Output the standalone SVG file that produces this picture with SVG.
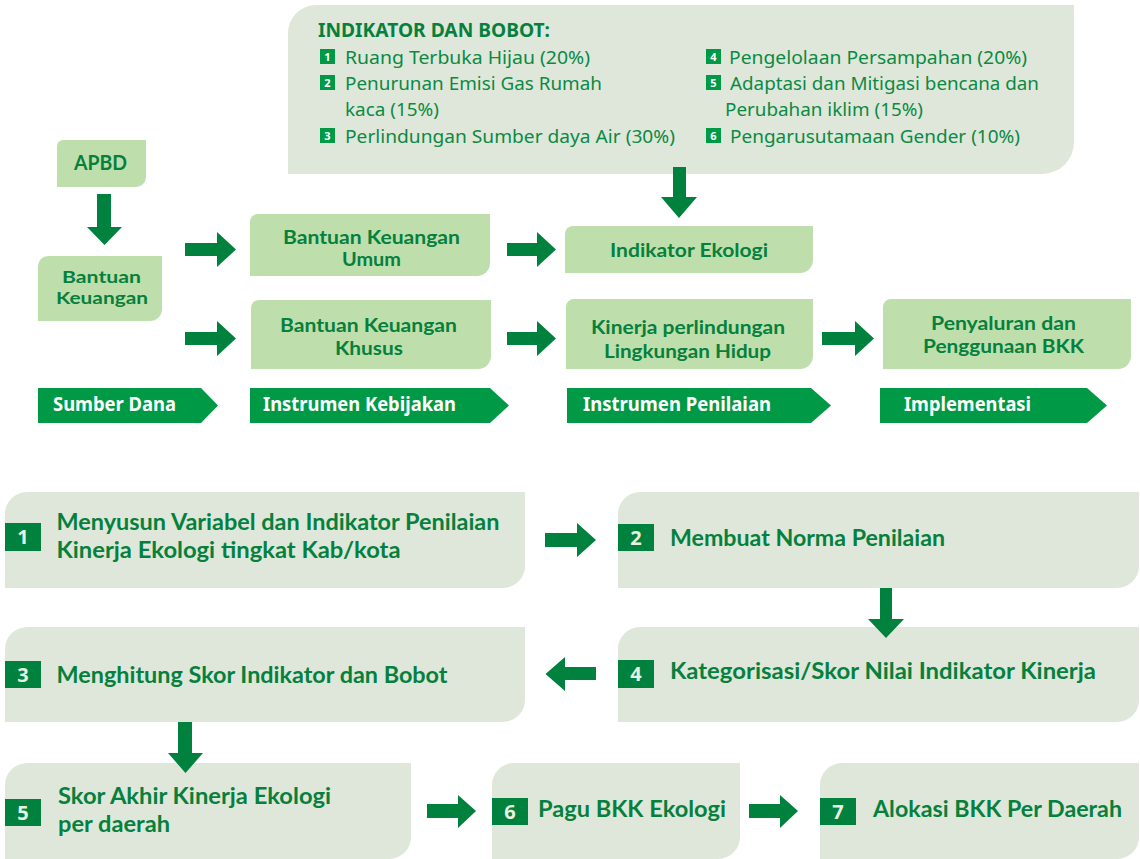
<svg xmlns="http://www.w3.org/2000/svg" width="1140" height="859" viewBox="0 0 1140 859">
  <style>
    .panel { fill: #dfe7da; }
    .node { fill: #bedfac; }
    .arrow { fill: #00813d; }
    .banner { fill: #009a46; }
    .badge { fill: #00813d; }
    .sbadge { fill: #009a46; }
    text { font-family: "Noto Sans", "Open Sans", "Liberation Sans", sans-serif; }
    .t { fill: #05803d; font-weight: 700; font-family: Lato, "Noto Sans", "Liberation Sans", sans-serif; }
    .tr { fill: #0a8a44; font-weight: 400; font-size: 18px; }
    .title { fill: #05803d; font-weight: 700; font-size: 19px; }
    .nt { font-size: 18px; }
    .bt { font-size: 23px; }
    .wt { fill: #ffffff; font-weight: 700; font-size: 19px; }
    .num { fill: #e8f2e4; font-weight: 700; font-size: 20px; text-anchor: middle; }
    .snum { fill: #ffffff; font-weight: 700; font-size: 11px; text-anchor: middle; }
  </style>

  <!-- indicator and weight panel -->
  <g id="indikator-bobot">
    <path class="panel" d="M288,33 A28,28 0 0 1 316,5 H1074 V142 A32,32 0 0 1 1042,174 H288 Z"/>
    <text class="title" x="318" y="37" textLength="232" lengthAdjust="spacingAndGlyphs">INDIKATOR DAN BOBOT:</text>
    <rect class="sbadge" x="320" y="49" width="15" height="15"/>
    <text class="snum" x="327.5" y="60.5">1</text>
    <text class="tr" x="345" y="64" textLength="245" lengthAdjust="spacingAndGlyphs">Ruang Terbuka Hijau (20%)</text>
    <rect class="sbadge" x="320" y="75" width="15" height="15"/>
    <text class="snum" x="327.5" y="86.5">2</text>
    <text class="tr" x="345" y="90" textLength="257" lengthAdjust="spacingAndGlyphs">Penurunan Emisi Gas Rumah</text>
    <text class="tr" x="345" y="116" textLength="94" lengthAdjust="spacingAndGlyphs">kaca (15%)</text>
    <rect class="sbadge" x="320" y="128" width="15" height="15"/>
    <text class="snum" x="327.5" y="139.5">3</text>
    <text class="tr" x="345" y="143" textLength="330" lengthAdjust="spacingAndGlyphs">Perlindungan Sumber daya Air (30%)</text>
    <rect class="sbadge" x="706" y="49" width="15" height="15"/>
    <text class="snum" x="713.5" y="60.5">4</text>
    <text class="tr" x="729" y="64" textLength="298" lengthAdjust="spacingAndGlyphs">Pengelolaan Persampahan (20%)</text>
    <rect class="sbadge" x="706" y="75" width="15" height="15"/>
    <text class="snum" x="713.5" y="86.5">5</text>
    <text class="tr" x="730" y="90" textLength="309" lengthAdjust="spacingAndGlyphs">Adaptasi dan Mitigasi bencana dan</text>
    <text class="tr" x="725" y="116" textLength="198" lengthAdjust="spacingAndGlyphs">Perubahan iklim (15%)</text>
    <rect class="sbadge" x="706" y="128" width="15" height="15"/>
    <text class="snum" x="713.5" y="139.5">6</text>
    <text class="tr" x="730" y="143" textLength="290" lengthAdjust="spacingAndGlyphs">Pengarusutamaan Gender (10%)</text>
  </g>

  <!-- upper flow nodes -->
  <g id="apbd">
    <path class="node" d="M57,146 A6,6 0 0 1 63,140 H146 V177 A10,10 0 0 1 136,187 H57 Z"/>
    <text class="t" style="font-size:20px" x="74" y="170" textLength="53" lengthAdjust="spacingAndGlyphs">APBD</text>
  </g>
  <g id="bantuan-keuangan">
    <path class="node" d="M38,266 A10,10 0 0 1 48,256 H162 V309 A12,12 0 0 1 150,321 H38 Z"/>
    <text class="t" style="font-size:17px" x="62" y="283" textLength="79" lengthAdjust="spacingAndGlyphs">Bantuan</text>
    <text class="t" style="font-size:17px" x="56" y="304" textLength="92" lengthAdjust="spacingAndGlyphs">Keuangan</text>
  </g>
  <g id="bk-umum">
    <path class="node" d="M250,222 A8,8 0 0 1 258,214 H490 V263 A13,13 0 0 1 477,276 H250 Z"/>
    <text class="t nt" x="283" y="244" textLength="177" lengthAdjust="spacingAndGlyphs">Bantuan Keuangan</text>
    <text class="t nt" x="342" y="266" textLength="59" lengthAdjust="spacingAndGlyphs">Umum</text>
  </g>
  <g id="bk-khusus">
    <path class="node" d="M251,308 A8,8 0 0 1 259,300 H491 V356 A13,13 0 0 1 478,369 H251 Z"/>
    <text class="t nt" x="280" y="332" textLength="177" lengthAdjust="spacingAndGlyphs">Bantuan Keuangan</text>
    <text class="t nt" x="335" y="355" textLength="68" lengthAdjust="spacingAndGlyphs">Khusus</text>
  </g>
  <g id="indikator-ekologi">
    <path class="node" d="M565,234 A8,8 0 0 1 573,226 H813 V260 A13,13 0 0 1 800,273 H565 Z"/>
    <text class="t" style="font-size:19px" x="610" y="257" textLength="158" lengthAdjust="spacingAndGlyphs">Indikator Ekologi</text>
  </g>
  <g id="kinerja-lh">
    <path class="node" d="M566,307 A8,8 0 0 1 574,299 H813 V356 A13,13 0 0 1 800,369 H566 Z"/>
    <text class="t nt" x="591" y="334" textLength="194" lengthAdjust="spacingAndGlyphs">Kinerja perlindungan</text>
    <text class="t nt" x="604" y="358" textLength="167" lengthAdjust="spacingAndGlyphs">Lingkungan Hidup</text>
  </g>
  <g id="penyaluran-bkk">
    <path class="node" d="M883,307 A8,8 0 0 1 891,299 H1131 V356 A13,13 0 0 1 1118,369 H883 Z"/>
    <text class="t nt" x="931" y="330" textLength="145" lengthAdjust="spacingAndGlyphs">Penyaluran dan</text>
    <text class="t nt" x="923" y="353" textLength="161" lengthAdjust="spacingAndGlyphs">Penggunaan BKK</text>
  </g>

  <!-- stage banners -->
  <g id="sumber-dana">
    <path class="banner" d="M38,388 H201 L218,405.5 L201,423 H38 Z"/>
    <text class="wt" x="53" y="411" textLength="123" lengthAdjust="spacingAndGlyphs">Sumber Dana</text>
  </g>
  <g id="instrumen-kebijakan">
    <path class="banner" d="M250,388 H490 L509,405.5 L490,423 H250 Z"/>
    <text class="wt" x="263" y="411" textLength="193" lengthAdjust="spacingAndGlyphs">Instrumen Kebijakan</text>
  </g>
  <g id="instrumen-penilaian">
    <path class="banner" d="M567,388 H811 L831,405.5 L811,423 H567 Z"/>
    <text class="wt" x="583" y="411" textLength="188" lengthAdjust="spacingAndGlyphs">Instrumen Penilaian</text>
  </g>
  <g id="implementasi">
    <path class="banner" d="M880,388 H1087 L1107,405.5 L1087,423 H880 Z"/>
    <text class="wt" x="904" y="411" textLength="127" lengthAdjust="spacingAndGlyphs">Implementasi</text>
  </g>

  <!-- process steps -->
  <g id="step-1">
    <path class="panel" d="M5,514 A22,22 0 0 1 27,492 H525 V566 A22,22 0 0 1 503,588 H5 Z"/>
    <rect class="badge" x="5" y="523" width="36" height="28"/>
    <text class="num" x="23" y="544">1</text>
    <text class="t bt" x="56.5" y="530" textLength="443" lengthAdjust="spacingAndGlyphs">Menyusun Variabel dan Indikator Penilaian</text>
    <text class="t bt" x="56.5" y="558" textLength="344" lengthAdjust="spacingAndGlyphs">Kinerja Ekologi tingkat Kab/kota</text>
  </g>
  <g id="step-2">
    <path class="panel" d="M618,514 A22,22 0 0 1 640,492 H1139 V566 A22,22 0 0 1 1117,588 H618 Z"/>
    <rect class="badge" x="618" y="524" width="36" height="27"/>
    <text class="num" x="636" y="545">2</text>
    <text class="t bt" x="670" y="546" textLength="275" lengthAdjust="spacingAndGlyphs">Membuat Norma Penilaian</text>
  </g>
  <g id="step-3">
    <path class="panel" d="M5,649 A22,22 0 0 1 27,627 H525 V700 A22,22 0 0 1 503,722 H5 Z"/>
    <rect class="badge" x="5" y="661" width="36" height="27"/>
    <text class="num" x="23" y="682">3</text>
    <text class="t bt" x="56.5" y="683" textLength="391" lengthAdjust="spacingAndGlyphs">Menghitung Skor Indikator dan Bobot</text>
  </g>
  <g id="step-4">
    <path class="panel" d="M618,649 A22,22 0 0 1 640,627 H1139 V700 A22,22 0 0 1 1117,722 H618 Z"/>
    <rect class="badge" x="618" y="660" width="36" height="28"/>
    <text class="num" x="636" y="681">4</text>
    <text class="t bt" x="670" y="679" textLength="426" lengthAdjust="spacingAndGlyphs">Kategorisasi/Skor Nilai Indikator Kinerja</text>
  </g>
  <g id="step-5">
    <path class="panel" d="M5,785 A22,22 0 0 1 27,763 H411 V837 A22,22 0 0 1 389,859 H5 Z"/>
    <rect class="badge" x="5" y="799" width="36" height="27"/>
    <text class="num" x="23" y="820">5</text>
    <text class="t bt" x="58" y="804" textLength="273" lengthAdjust="spacingAndGlyphs">Skor Akhir Kinerja Ekologi</text>
    <text class="t bt" x="58" y="832" textLength="112" lengthAdjust="spacingAndGlyphs">per daerah</text>
  </g>
  <g id="step-6">
    <path class="panel" d="M492,785 A22,22 0 0 1 514,763 H740 V837 A22,22 0 0 1 718,859 H492 Z"/>
    <rect class="badge" x="492" y="798" width="36" height="27"/>
    <text class="num" x="510" y="819">6</text>
    <text class="t bt" x="538" y="817" textLength="188" lengthAdjust="spacingAndGlyphs">Pagu BKK Ekologi</text>
  </g>
  <g id="step-7">
    <path class="panel" d="M820,785 A22,22 0 0 1 842,763 H1139 V837 A22,22 0 0 1 1117,859 H820 Z"/>
    <rect class="badge" x="820" y="798" width="36" height="27"/>
    <text class="num" x="838" y="819">7</text>
    <text class="t bt" x="873" y="817" textLength="249" lengthAdjust="spacingAndGlyphs">Alokasi BKK Per Daerah</text>
  </g>

  <!-- block arrows -->
  <g id="connectors">
    <path class="arrow" d="M673,167 H686 V197 H697 L679,218 L661,197 H673 Z"/>
    <path class="arrow" d="M97,194 H111 V227 H122 L104.5,245 L87,227 H97 Z"/>
    <path class="arrow" d="M185,243 H217 V232 L236,249.5 L217,267 V256 H185 Z"/>
    <path class="arrow" d="M185,332 H217 V321 L236,338.5 L217,356 V345 H185 Z"/>
    <path class="arrow" d="M507,243 H537 V232 L556,249.5 L537,267 V256 H507 Z"/>
    <path class="arrow" d="M507,332 H537 V321 L556,338.5 L537,356 V345 H507 Z"/>
    <path class="arrow" d="M822,332 H855 V321 L874,338.5 L855,356 V345 H822 Z"/>
    <path class="arrow" d="M545,533 H577 V523 L596,540 L577,557 V547 H545 Z"/>
    <path class="arrow" d="M880,588 H892 V619 H904 L886,638 L868,619 H880 Z"/>
    <path class="arrow" d="M596,667 H565 V657 L545.5,674 L565,691 V680 H596 Z"/>
    <path class="arrow" d="M178,722 H192 V753 H203 L185.5,773 L168,753 H178 Z"/>
    <path class="arrow" d="M427,804 H458 V795 L476,811 L458,828 V818 H427 Z"/>
    <path class="arrow" d="M749,804 H780 V795 L798,811 L780,828 V818 H749 Z"/>
  </g>
</svg>
